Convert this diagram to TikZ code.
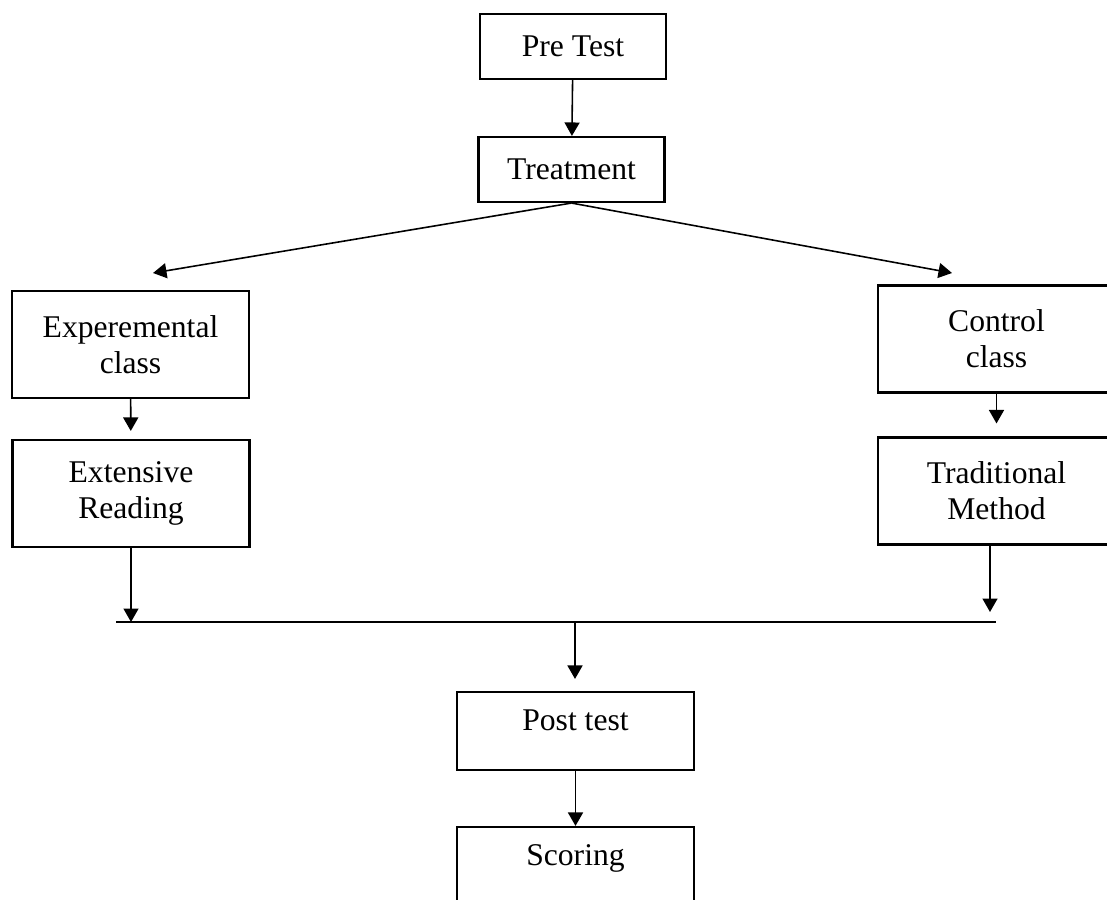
\documentclass[tikz,border=0pt]{standalone}
\usepackage{fontspec}
\setmainfont{Liberation Serif}
\usepackage{tikz}
\usetikzlibrary{arrows.meta}
\tikzstyle{centered} = [align=center, text centered, font=\fontsize{18}{20.5}\selectfont]
\tikzstyle{bnode} = [centered, rectangle, draw, line width=1.2pt, minimum width=4.74cm, minimum height=2.14cm, inner sep=2pt]
\tikzstyle{snode} = [bnode, minimum width=3.72cm, minimum height=1.3cm]
\tikzstyle{lnode} = [bnode, minimum height=1.56cm, text depth=0.42cm]
\tikzstyle{arr} = [line width=0.9pt, -{Triangle[length=0.27cm, width=0.3cm]}]

\begin{document}
\begin{tikzpicture}[x=0.02cm, y=-0.02cm]
  \useasboundingbox (0,0) rectangle (1107,900);
  \node [snode](pre) at (573, 46.5) {Pre Test};
  \node [snode](treat) at (571.5, 169.5) {Treatment};
  \node [bnode](exp) at (130.5, 344.5) {Experemental\\class};
  \node [bnode](ext) at (131, 493.5) {Extensive\\Reading};
  \node [bnode](ctrl) at (996.5, 339) {Control\\class};
  \node [bnode](trad) at (996.5, 491) {Traditional\\Method};
  \node [lnode](post) at (575.5, 731) {Post test};
  \node [lnode](score) at (575.5, 866) {Scoring};
  \coordinate (expin) at (153, 273);
  \coordinate (ctrlin) at (952, 273);
  \coordinate (jl) at (116, 622);
  \coordinate (jr) at (996, 622);
  \coordinate (jm) at (575, 622);

  \draw [arr] (pre) -- (treat);
  \draw [arr] (treat.south) -- (expin);
  \draw [arr] (treat.south) -- (ctrlin);
  \draw [arr, shorten >=0.16cm] (exp) -- (ext);
  \draw [arr, shorten >=0.26cm] (ctrl) -- (trad);
  \draw [arr] (ext) -- (ext |- jl);
  \draw [arr, shorten >=0.2cm] (trad.south -| 990,0) -- (990, 622);
  \draw [line width=1.2pt] (jl) -- (jr);
  \draw [arr, shorten >=0.24cm] (jm) -- (jm |- post.north);
  \draw [arr] (post) -- (score);
\end{tikzpicture}
\end{document}
